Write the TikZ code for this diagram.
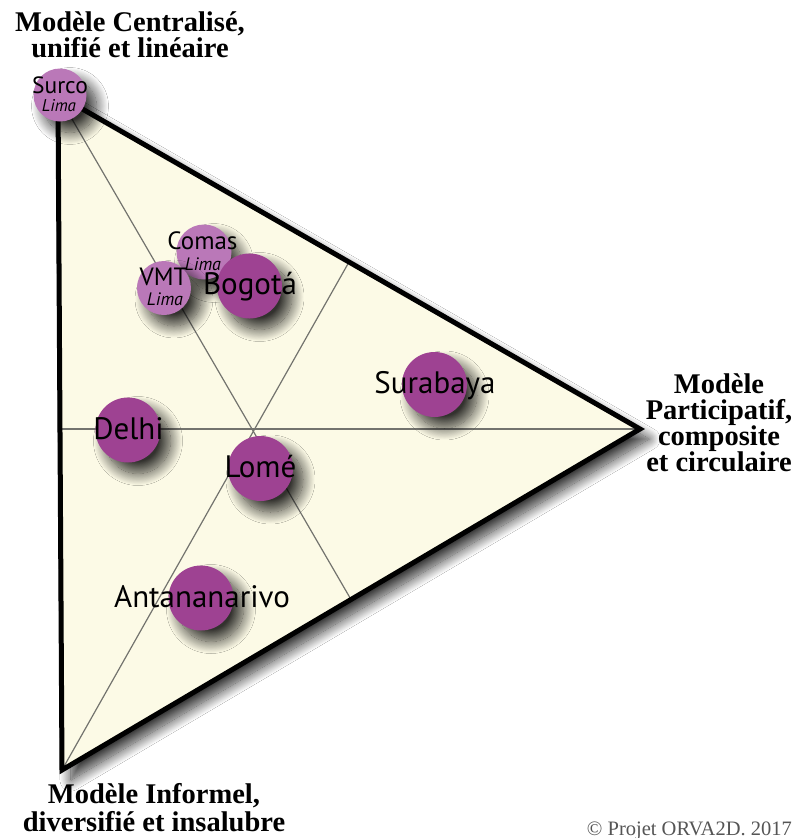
\documentclass[tikz,border=0pt]{standalone}
\usepackage{fontspec}
\setmainfont{Liberation Serif}
\newfontfamily\cityfont{PT Sans}
\usetikzlibrary{shadows.blur,calc}
\definecolor{cream}{RGB}{252,250,230}
\definecolor{darkplum}{RGB}{158,66,146}
\definecolor{lightplum}{RGB}{186,120,184}
\definecolor{mediangray}{RGB}{115,115,110}
\definecolor{copygray}{RGB}{85,85,85}
\begin{document}
\begin{tikzpicture}[x=1pt,y=-1pt,
  dot/.style={circle, inner sep=0pt, fill=darkplum,
    blur shadow={shadow xshift=10pt, shadow yshift=-11pt, shadow blur radius=12pt, shadow blur steps=20, shadow opacity=80}},
  lightdot/.style={dot, fill=lightplum},
  lbl/.style={font=\fontsize{28.5}{26}\selectfont\bfseries, anchor=base, inner sep=0pt, align=center},
  city/.style={font=\cityfont\fontsize{31}{33}\selectfont, anchor=base, inner sep=0pt},
  smallcity/.style={font=\cityfont\fontsize{25}{27}\selectfont, anchor=base, inner sep=0pt},
  limatxt/.style={font=\cityfont\itshape\fontsize{18}{20}\selectfont, anchor=base, inner sep=0pt},
  median/.style={draw=mediangray, line width=1.2pt},
  border/.style={draw=black, line width=5pt, line join=miter}
]
\useasboundingbox (0,0) rectangle (796,838);
\fill[white] (0,0) rectangle (796,838);

% triangle vertices
\coordinate (A) at (58,95);
\coordinate (B) at (640,429);
\coordinate (C) at (62,770);
\coordinate (mAB) at ($(A)!0.5!(B)$);
\coordinate (mBC) at ($(B)!0.5!(C)$);
\coordinate (mAC) at (60,429);

\path[fill=cream, blur shadow={shadow xshift=9pt, shadow yshift=-10pt, shadow blur radius=11pt, shadow blur steps=20, shadow opacity=80}]
  (A) -- (B) -- (C) -- cycle;

\draw[median] (A) -- (mBC);
\draw[median] (C) -- (mAB);
\draw[median] (mAC) -- (B);

\draw[border] (A) -- (B) -- (C) -- cycle;

% circles
\node[lightdot, minimum size=53pt] (surco) at (60,95) {};
\node[lightdot, minimum size=55pt] (comas) at (204,252) {};
\node[lightdot, minimum size=54pt] (vmt) at (164,288) {};
\node[dot, minimum size=65pt] (bogota) at (249.5,286) {};
\node[dot, minimum size=65pt] (surabaya) at (434.5,384.5) {};
\node[dot, minimum size=65pt] (delhi) at (128,430) {};
\node[dot, minimum size=65pt] (lome) at (260.5,468.5) {};
\node[dot, minimum size=65pt] (antananarivo) at (201,598) {};

% city texts
\node[smallcity, font=\cityfont\fontsize{23.5}{25}\selectfont] (surcoT) at (60,93) {Surco};
\node[limatxt, font=\cityfont\itshape\fontsize{17}{19}\selectfont] (surcoL) at (59,111) {Lima};
\node[smallcity] (comasT) at (202.5,249) {Comas};
\node[limatxt] (comasL) at (203,270) {Lima};
\node[smallcity] (vmtT) at (163.5,285) {VMT};
\node[limatxt] (vmtL) at (165,305) {Lima};
\node[city] (bogotaT) at (250,294) {Bogotá};
\node[city] (surabayaT) at (435,393) {Surabaya};
\node[city] (delhiT) at (128.5,439) {Delhi};
\node[city] (lomeT) at (260.5,477) {Lomé};
\node[city] (antananarivoT) at (202,607) {Antananarivo};

% pole labels (base = baseline of last line)
\node[lbl] (topL) at (130,57) {Modèle Centralisé,\\unifié et linéaire};
\node[lbl] (rightL) at (719,471) {Modèle\\Participatif,\\composite\\et circulaire};
\node[lbl, font=\fontsize{28.5}{27.5}\selectfont\bfseries] (botL) at (154,831) {Modèle Informel,\\diversifié et insalubre};

\node[anchor=base east, inner sep=0pt, text=copygray, font=\fontsize{20.5}{22}\selectfont] (copy) at (792,835) {© Projet ORVA2D. 2017};
\end{tikzpicture}
\end{document}
